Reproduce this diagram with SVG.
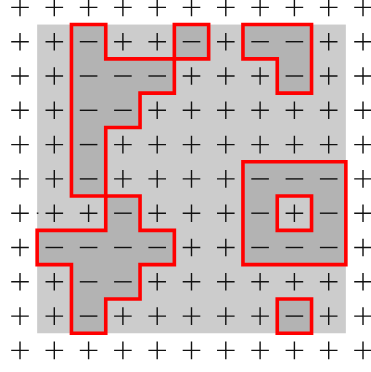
<svg xmlns="http://www.w3.org/2000/svg" xmlns:xlink="http://www.w3.org/1999/xlink" width="371" height="372" viewBox="0 0 371 372">
<style>
.sym{fill:none;stroke:#111;stroke-width:1.4}
.dark{fill:#b3b3b3;stroke:none}
.edge{fill:none;stroke:#ff0000;stroke-width:3.6;stroke-linejoin:miter}
</style>
<defs>
<path id="p" class="sym" d="M-8.8 0H8.8M0 -8.8V8.8"/>
<path id="m" class="sym" d="M-8.8 0H8.8"/>
</defs>
<rect width="371" height="372" fill="#ffffff"/>
<rect id="board" x="37.15" y="24.55" width="308.7" height="308.7" fill="#cccccc"/>
<g id="fills">
<path class="dark" d="M71.45 24.55H105.75V58.85H174.35V93.15H140.05V127.45H105.75V196.05H71.45Z"/>
<path class="dark" d="M174.35 24.55H208.65V58.85H174.35Z"/>
<path class="dark" d="M242.95 24.55H311.55V93.15H277.25V58.85H242.95Z"/>
<path class="dark" d="M105.75 196.05H140.05V230.35H174.35V264.65H140.05V298.95H105.75V333.25H71.45V264.65H37.15V230.35H105.75Z"/>
<path class="dark" fill-rule="evenodd" d="M242.95 161.75H345.85V264.65H242.95ZM277.25 196.05V230.35H311.55V196.05Z"/>
<path class="dark" d="M277.25 298.95H311.55V333.25H277.25Z"/>
</g>
<g id="symbols">
<g transform="translate(0,7.4)"><use href="#p" x="20"/><use href="#p" x="54.3"/><use href="#p" x="88.6"/><use href="#p" x="122.9"/><use href="#p" x="157.2"/><use href="#p" x="191.5"/><use href="#p" x="225.8"/><use href="#p" x="260.1"/><use href="#p" x="294.4"/><use href="#p" x="328.7"/><use href="#p" x="363"/></g>
<g transform="translate(0,41.7)"><use href="#p" x="20"/><use href="#p" x="54.3"/><use href="#m" x="88.6"/><use href="#p" x="122.9"/><use href="#p" x="157.2"/><use href="#m" x="191.5"/><use href="#p" x="225.8"/><use href="#m" x="260.1"/><use href="#m" x="294.4"/><use href="#p" x="328.7"/><use href="#p" x="363"/></g>
<g transform="translate(0,76)"><use href="#p" x="20"/><use href="#p" x="54.3"/><use href="#m" x="88.6"/><use href="#m" x="122.9"/><use href="#m" x="157.2"/><use href="#p" x="191.5"/><use href="#p" x="225.8"/><use href="#p" x="260.1"/><use href="#m" x="294.4"/><use href="#p" x="328.7"/><use href="#p" x="363"/></g>
<g transform="translate(0,110.3)"><use href="#p" x="20"/><use href="#p" x="54.3"/><use href="#m" x="88.6"/><use href="#m" x="122.9"/><use href="#p" x="157.2"/><use href="#p" x="191.5"/><use href="#p" x="225.8"/><use href="#p" x="260.1"/><use href="#p" x="294.4"/><use href="#p" x="328.7"/><use href="#p" x="363"/></g>
<g transform="translate(0,144.6)"><use href="#p" x="20"/><use href="#p" x="54.3"/><use href="#m" x="88.6"/><use href="#p" x="122.9"/><use href="#p" x="157.2"/><use href="#p" x="191.5"/><use href="#p" x="225.8"/><use href="#p" x="260.1"/><use href="#p" x="294.4"/><use href="#p" x="328.7"/><use href="#p" x="363"/></g>
<g transform="translate(0,178.9)"><use href="#p" x="20"/><use href="#p" x="54.3"/><use href="#m" x="88.6"/><use href="#p" x="122.9"/><use href="#p" x="157.2"/><use href="#p" x="191.5"/><use href="#p" x="225.8"/><use href="#m" x="260.1"/><use href="#m" x="294.4"/><use href="#m" x="328.7"/><use href="#p" x="363"/></g>
<g transform="translate(0,213.2)"><use href="#p" x="20"/><use href="#p" x="54.3"/><use href="#p" x="88.6"/><use href="#m" x="122.9"/><use href="#p" x="157.2"/><use href="#p" x="191.5"/><use href="#p" x="225.8"/><use href="#m" x="260.1"/><use href="#p" x="294.4"/><use href="#m" x="328.7"/><use href="#p" x="363"/><path class="sym" d="M36.8 0H38.4" stroke="#777"/></g>
<g transform="translate(0,247.5)"><use href="#p" x="20"/><use href="#m" x="54.3"/><use href="#m" x="88.6"/><use href="#m" x="122.9"/><use href="#m" x="157.2"/><use href="#p" x="191.5"/><use href="#p" x="225.8"/><use href="#m" x="260.1"/><use href="#m" x="294.4"/><use href="#m" x="328.7"/><use href="#p" x="363"/></g>
<g transform="translate(0,281.8)"><use href="#p" x="20"/><use href="#p" x="54.3"/><use href="#m" x="88.6"/><use href="#m" x="122.9"/><use href="#p" x="157.2"/><use href="#p" x="191.5"/><use href="#p" x="225.8"/><use href="#p" x="260.1"/><use href="#p" x="294.4"/><use href="#p" x="328.7"/><use href="#p" x="363"/></g>
<g transform="translate(0,316.1)"><use href="#p" x="20"/><use href="#p" x="54.3"/><use href="#m" x="88.6"/><use href="#p" x="122.9"/><use href="#p" x="157.2"/><use href="#p" x="191.5"/><use href="#p" x="225.8"/><use href="#p" x="260.1"/><use href="#m" x="294.4"/><use href="#p" x="328.7"/><use href="#p" x="363"/></g>
<g transform="translate(0,350.4)"><use href="#p" x="20"/><use href="#p" x="54.3"/><use href="#p" x="88.6"/><use href="#p" x="122.9"/><use href="#p" x="157.2"/><use href="#p" x="191.5"/><use href="#p" x="225.8"/><use href="#p" x="260.1"/><use href="#p" x="294.4"/><use href="#p" x="328.7"/><use href="#p" x="363"/></g>
</g>
<g id="region-a"><path class="edge" d="M71.45 24.55H105.75V58.85H174.35V93.15H140.05V127.45H105.75V196.05H71.45Z"/></g>
<g id="region-b"><path class="edge" d="M174.35 24.55H208.65V58.85H174.35Z"/></g>
<g id="region-c"><path class="edge" d="M242.95 24.55H311.55V93.15H277.25V58.85H242.95Z"/></g>
<g id="region-d"><path class="edge" d="M105.75 196.05H140.05V230.35H174.35V264.65H140.05V298.95H105.75V333.25H71.45V264.65H37.15V230.35H105.75Z"/></g>
<g id="region-e"><path class="edge" d="M242.95 161.75H345.85V264.65H242.95ZM277.25 196.05V230.35H311.55V196.05Z"/></g>
<g id="region-f"><path class="edge" d="M277.25 298.95H311.55V333.25H277.25Z"/></g>
</svg>
